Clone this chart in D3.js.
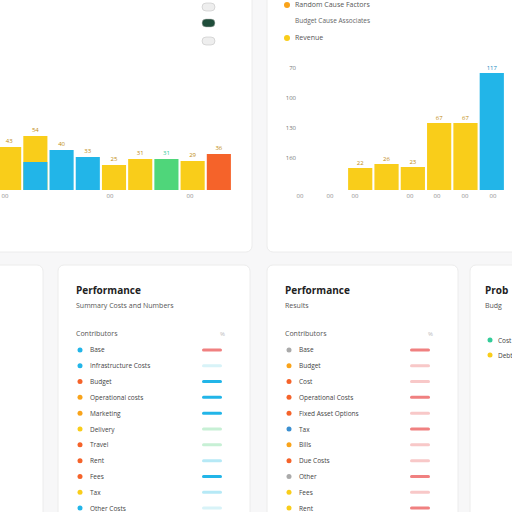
<!DOCTYPE html><html><head><script src="https://cdn.jsdelivr.net/npm/d3@7"></script>
<style>body{margin:0;background:#f7f7f8}svg{font-family:"Open Sans",sans-serif}</style></head><body>
<svg id="c" width="512" height="512"></svg>
<script>
const leftCats=["Q1","Q2","Q3","Q4","Q5","Q6","Q7","Q8","Q9"];
const leftVals=[43,54,40,33,25,31,31,29,36];
const leftSplit=[0,28,0,0,0,0,0,0,0];
const leftColors=["#f9cd1a","#f9cd1a","#22b5e8","#22b5e8","#f9cd1a","#f9cd1a","#4fd67a","#f9cd1a","#f5632a"];
const rightCats=["A","B","C","D","E","F"];
const rightVals=[22,26,23,67,67,117];
const rightColors=["#f9cd1a","#f9cd1a","#f9cd1a","#f9cd1a","#f9cd1a","#22b5e8"];
const rightTicks=[70,100,130,160];
const rowsMid=["Base","Infrastructure Costs","Budget","Operational costs","Marketing","Delivery","Travel","Rent","Fees","Tax","Other Costs"];
const dotMid=["#22b5e8","#22b5e8","#f5632a","#f9a31a","#f9a31a","#f9cd1a","#f5632a","#f5632a","#f5632a","#f9cd1a","#22b5e8"];
const barMid=["#f08080","#d8f3f8","#22b5e8","#22b5e8","#22b5e8","#c7f0d5","#c7f0d5","#b6e9f6","#22b5e8","#b6e9f6","#d8f3f8"];
const rowsR=["Base","Budget","Cost","Operational Costs","Fixed Asset Options","Tax","Bills","Due Costs","Other","Fees","Rent"];
const dotR=["#aaa","#f9a31a","#f5632a","#f5632a","#f5632a","#3b8fd0","#f9a31a","#f5632a","#aaa","#f9cd1a","#f9cd1a"];
const barR=["#f08080","#f8c8c8","#f8c8c8","#f08080","#f8c8c8","#f08080","#f8c8c8","#f8c8c8","#f08080","#f8c8c8","#f08080"];
const svg=d3.select("#c");
function card(x,y,w,h){svg.append("rect").attr("x",x).attr("y",y).attr("width",w).attr("height",h).attr("rx",6).attr("fill","#fff").attr("stroke","#ececec");}
card(-10,-10,262,262);card(267,-10,255,262);card(-10,265,53,260);card(58,265,192,260);card(267,265,191,260);card(470,265,60,260);
const xL=d3.scaleBand().domain(leftCats).range([-5,233]).padding(0.08);
const yL=d3.scaleLinear().domain([0,80]).range([190,110]);
leftCats.forEach((c,i)=>{
 svg.append("rect").attr("x",xL(c)).attr("width",xL.bandwidth()).attr("y",yL(leftVals[i])).attr("height",190-yL(leftVals[i])).attr("fill",leftColors[i]);
 if(leftSplit[i])svg.append("rect").attr("x",xL(c)).attr("width",xL.bandwidth()).attr("y",yL(leftSplit[i])).attr("height",190-yL(leftSplit[i])).attr("fill","#22b5e8");
 svg.append("text").attr("x",xL(c)+xL.bandwidth()/2).attr("y",yL(leftVals[i])-4).attr("text-anchor","middle").attr("font-size",6).attr("fill",leftColors[i]==="#4fd67a"?"#3c9":"#c08a10").text(leftVals[i]);
});
[5,110,190].forEach(x=>svg.append("text").attr("x",x).attr("y",198).attr("font-size",6).attr("fill","#888").attr("text-anchor","middle").text("00"));
[["#eee",7],["#1f4d3a",23],["#eee",41]].forEach(([f,y])=>{svg.append("rect").attr("x",202).attr("y",y-4).attr("width",13).attr("height",8).attr("rx",4).attr("fill",f).attr("stroke","#bbb").attr("stroke-width",0.5);});
const xR=d3.scaleBand().domain(rightCats).range([346,506]).padding(0.08);
const yR=d3.scaleLinear().domain([0,120]).range([190,70]);
rightCats.forEach((c,i)=>{
 svg.append("rect").attr("x",xR(c)).attr("width",xR.bandwidth()).attr("y",yR(rightVals[i])).attr("height",190-yR(rightVals[i])).attr("fill",rightColors[i]);
 svg.append("text").attr("x",xR(c)+xR.bandwidth()/2).attr("y",yR(rightVals[i])-3).attr("text-anchor","middle").attr("font-size",6).attr("fill",i==5?"#1a8ac0":"#c08a10").text(rightVals[i]);
});
const yT=d3.scaleLinear().domain([70,160]).range([70,160]);
rightTicks.forEach(t=>svg.append("text").attr("x",296).attr("y",yT(t)).attr("text-anchor","end").attr("font-size",6).attr("fill","#777").text(t));
[300,330,355,410,437,465,493].forEach(x=>svg.append("text").attr("x",x).attr("y",198).attr("font-size",6).attr("fill","#888").attr("text-anchor","middle").text("00"));
svg.append("circle").attr("cx",287).attr("cy",5).attr("r",3).attr("fill","#f9a31a");
svg.append("text").attr("x",295).attr("y",7).attr("font-size",7).attr("fill","#555").text("Random Cause Factors");
svg.append("text").attr("x",295).attr("y",23).attr("font-size",6.5).attr("fill","#666").text("Budget Cause Associates");
svg.append("circle").attr("cx",287).attr("cy",38).attr("r",3).attr("fill","#f9cd1a");
svg.append("text").attr("x",295).attr("y",40).attr("font-size",7).attr("fill","#555").text("Revenue");
function list(x0,w,title,sub,rows,dots,bars){
 svg.append("text").attr("x",x0).attr("y",294).attr("font-size",10).attr("font-weight","bold").attr("fill","#222").text(title);
 svg.append("text").attr("x",x0).attr("y",308).attr("font-size",7).attr("fill","#555").text(sub);
 svg.append("text").attr("x",x0).attr("y",336).attr("font-size",7).attr("fill","#555").text("Contributors");
 svg.append("text").attr("x",x0+w-2).attr("y",336).attr("font-size",6).attr("fill","#bbb").text("%");
 const y=d3.scaleBand().domain(rows).range([342,516]).padding(0);
 rows.forEach((r,i)=>{const cy=y(r)+y.bandwidth()/2;
  svg.append("circle").attr("cx",x0+4).attr("cy",cy).attr("r",2.5).attr("fill",dots[i]);
  svg.append("text").attr("x",x0+14).attr("y",cy+2.5).attr("font-size",6.5).attr("fill","#444").text(r);
  svg.append("rect").attr("x",x0+w-20).attr("y",cy-1.5).attr("width",20).attr("height",3).attr("rx",1.5).attr("fill",bars[i]);});
}
list(76,146,"Performance","Summary Costs and Numbers",rowsMid,dotMid,barMid);
list(285,145,"Performance","Results",rowsR,dotR,barR);
svg.append("text").attr("x",485).attr("y",294).attr("font-size",10).attr("font-weight","bold").attr("fill","#222").text("Prob");
svg.append("text").attr("x",485).attr("y",308).attr("font-size",7).attr("fill","#555").text("Budg");
svg.append("circle").attr("cx",490).attr("cy",340).attr("r",2.5).attr("fill","#3c9");
svg.append("circle").attr("cx",490).attr("cy",355).attr("r",2.5).attr("fill","#f9cd1a");
svg.append("text").attr("x",498).attr("y",343).attr("font-size",6.5).attr("fill","#444").text("Cost");
svg.append("text").attr("x",498).attr("y",358).attr("font-size",6.5).attr("fill","#444").text("Debt");
</script></body></html>
